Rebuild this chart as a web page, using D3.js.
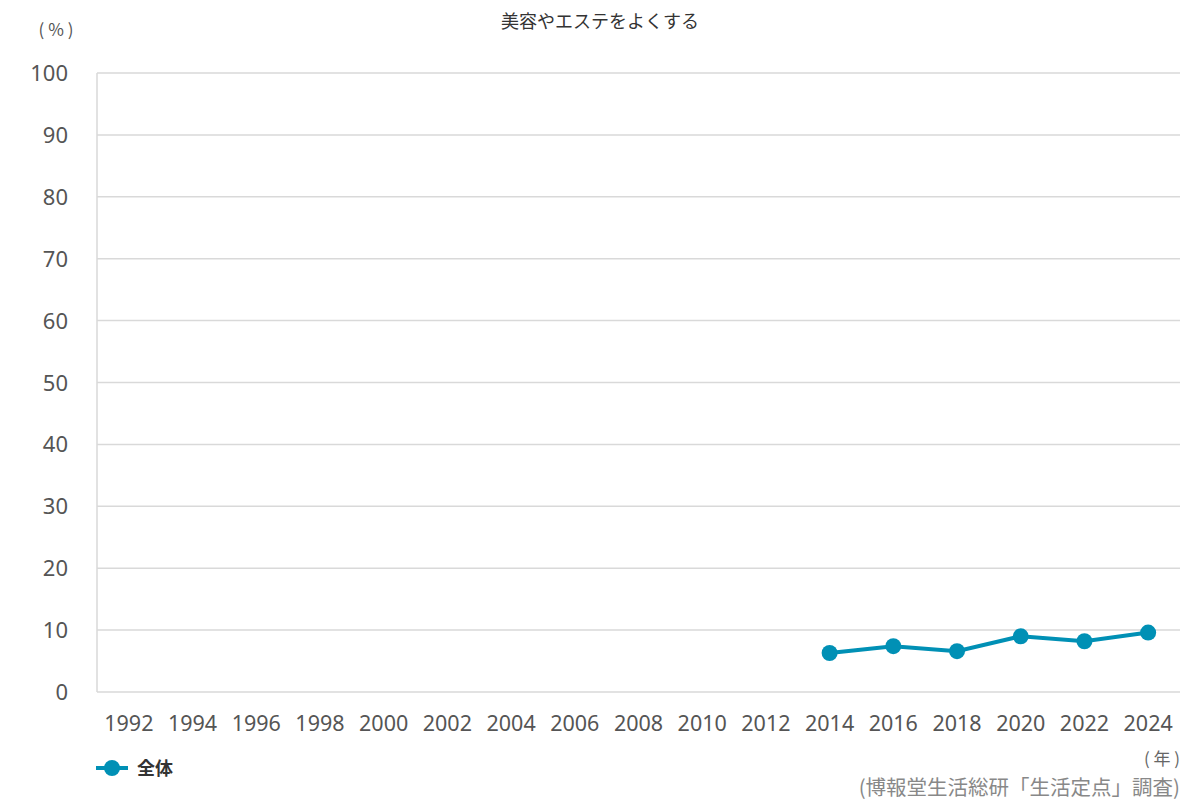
<!DOCTYPE html><html><head><meta charset="utf-8"><script src="https://cdn.jsdelivr.net/npm/d3@7"></script>
<style>body{margin:0;background:#fff;font-family:"Noto Sans CJK JP","Noto Sans",sans-serif}</style></head><body><svg id="c" width="1200" height="800"></svg>
<script>
const years=["1992","1994","1996","1998","2000","2002","2004","2006","2008","2010","2012","2014","2016","2018","2020","2022","2024"];
const seriesYears=["2014","2016","2018","2020","2022","2024"];
const seriesValues=[6.3,7.4,6.6,9.0,8.2,9.6];
const yTicks=[0,10,20,30,40,50,60,70,80,90,100];
const svg=d3.select("#c");
const L=97,R=1180,T=73,B=692;
const x=d3.scalePoint().domain(years).range([L,R]).padding(0.5);
const y=d3.scaleLinear().domain([0,100]).range([B,T]);
svg.append("g").selectAll("line").data(yTicks).join("line").attr("x1",L).attr("x2",R).attr("y1",d=>y(d)).attr("y2",d=>y(d)).attr("stroke","#d9d9d9").attr("stroke-width",1.5);
svg.append("line").attr("x1",L).attr("x2",L).attr("y1",T).attr("y2",B).attr("stroke","#d9d9d9").attr("stroke-width",1.5);
svg.append("g").selectAll("text").data(yTicks).join("text").attr("x",68).attr("y",d=>y(d)+8).attr("text-anchor","end").attr("font-family","'Noto Sans',sans-serif").attr("font-size",22).attr("fill","#555").text(d=>d);
svg.append("g").selectAll("text").data(years).join("text").attr("x",d=>x(d)).attr("y",731).attr("text-anchor","middle").attr("font-family","'Noto Sans',sans-serif").attr("font-size",21.5).attr("fill","#555").text(d=>d);
const pts=seriesYears.map((d,i)=>[x(d),y(seriesValues[i])]);
svg.append("path").attr("d",d3.line()(pts)).attr("fill","none").attr("stroke","#0090b5").attr("stroke-width",4);
svg.append("g").selectAll("circle").data(pts).join("circle").attr("cx",d=>d[0]).attr("cy",d=>d[1]).attr("r",8).attr("fill","#0090b5");
svg.append("text").attr("x",600).attr("y",28).attr("text-anchor","middle").attr("font-size",18).attr("fill","#333").text("美容やエステをよくする");
svg.append("text").attr("x",56).attr("y",36).attr("text-anchor","middle").attr("font-size",17).attr("fill","#555").text("( % )");
svg.append("line").attr("x1",96).attr("x2",128).attr("y1",768).attr("y2",768).attr("stroke","#0090b5").attr("stroke-width",4);
svg.append("circle").attr("cx",112).attr("cy",768).attr("r",8).attr("fill","#0090b5");
svg.append("text").attr("x",137).attr("y",775).attr("font-size",18).attr("font-weight","bold").attr("fill","#333").text("全体");
svg.append("text").attr("x",1180).attr("y",765).attr("text-anchor","end").attr("font-size",17).attr("fill","#666").text("( 年 )");
svg.append("text").attr("x",1180).attr("y",795).attr("text-anchor","end").attr("font-size",20.5).attr("fill","#888").text("(博報堂生活総研「生活定点」調査)");
</script></body></html>
